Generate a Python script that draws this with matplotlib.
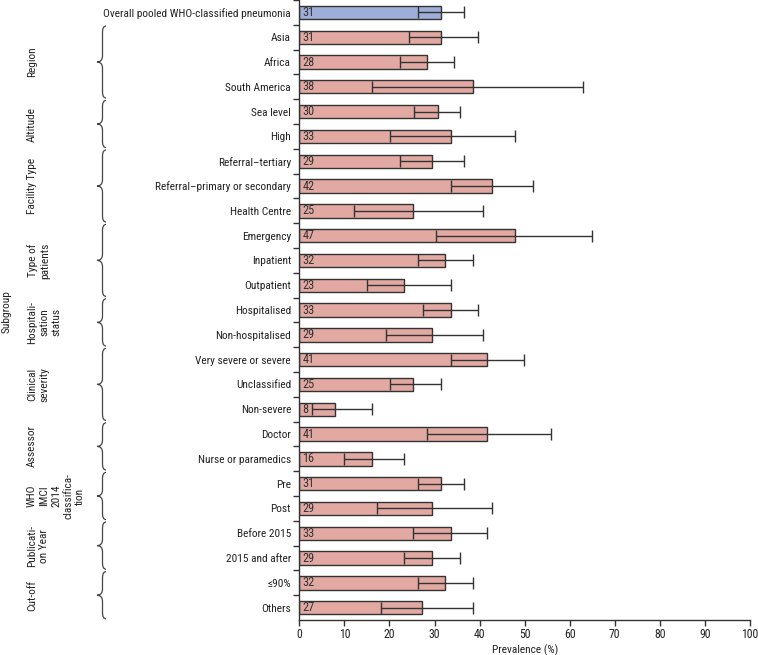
import matplotlib
matplotlib.use("Agg")
import matplotlib.pyplot as plt
import matplotlib.transforms as mtransforms
from matplotlib.path import Path
from matplotlib.patches import PathPatch

plt.rcParams['font.family'] = ['Roboto Condensed', 'Liberation Sans Narrow', 'DejaVu Sans']

categories = ["Overall pooled WHO-classified pneumonia",
              "Asia", "Africa", "South America",
              "Sea level", "High",
              "Referral\u2013tertiary", "Referral\u2013primary or secondary", "Health Centre",
              "Emergency", "Inpatient", "Outpatient",
              "Hospitalised", "Non-hospitalised",
              "Very severe or severe", "Unclassified", "Non-severe",
              "Doctor", "Nurse or paramedics",
              "Pre", "Post",
              "Before 2015", "2015 and after",
              "\u226490%", "Others"]
prevalence = [31.5, 31.5, 28.4, 38.5, 30.7, 33.6, 29.5, 42.7, 25.3, 47.8, 32.4, 23.3,
              33.6, 29.5, 41.6, 25.3, 8.0, 41.6, 16.1, 31.5, 29.5, 33.6, 29.5, 32.4, 27.3]
value_labels = ["31", "31", "28", "38", "30", "33", "29", "42", "25", "47", "32", "23",
                "33", "29", "41", "25", "8", "41", "16", "31", "29", "33", "29", "32", "27"]
ci_low = [26.3, 24.3, 22.3, 16.1, 25.4, 20.2, 22.3, 33.6, 12.1, 30.4, 26.3, 15.1,
          27.4, 19.2, 33.6, 20.2, 2.8, 28.4, 10.0, 26.3, 17.2, 25.3, 23.3, 26.3, 18.1]
ci_high = [36.5, 39.6, 34.4, 63.0, 35.6, 47.8, 36.5, 51.8, 40.7, 65.0, 38.5, 33.6,
           39.6, 40.7, 49.8, 31.5, 16.1, 55.9, 23.3, 36.5, 42.7, 41.6, 35.6, 38.5, 38.5]

# subgroup name, first row, last row
groups = [("Region", 1, 3),
          ("Altitude", 4, 5),
          ("Facility Type", 6, 8),
          ("Type of\npatients", 9, 11),
          ("Hospitali-\nsation\nstatus", 12, 13),
          ("Clinical\nseverity", 14, 16),
          ("Assessor", 17, 18),
          ("WHO\nIMCI\n2014\nclassifica-\ntion", 19, 20),
          ("Publicati-\non Year", 21, 22),
          ("Cut-off", 23, 24)]

pink = "#e2a9a3"
blue = "#9eaed9"
edge = "#333333"
fs = 8.2

fig = plt.figure(figsize=(7.58, 6.55), dpi=100)
ax = fig.add_axes([0.3949, 0.0534, 0.5945, 0.9466])

rows = list(range(len(categories)))
colors = [blue] + [pink] * (len(categories) - 1)
ax.barh(rows, prevalence, height=0.54, color=colors, edgecolor=edge, linewidth=1.0, zorder=2)
xerr = [[p - lo for p, lo in zip(prevalence, ci_low)],
        [hi - p for p, hi in zip(prevalence, ci_high)]]
ax.errorbar(prevalence, rows, xerr=xerr, fmt="none", ecolor=edge, elinewidth=1.0,
            capsize=4, capthick=1.0, zorder=3)
for r, lab in zip(rows, value_labels):
    ax.text(0.7, r, lab, ha="left", va="center", fontsize=fs + 0.6, color="#333333", zorder=4)

ax.set_xlim(0, 100)
ax.set_ylim(len(categories) - 0.5, -0.5)
ax.set_xticks(range(0, 101, 10))
ax.set_yticks(rows)
ax.set_yticklabels(categories, fontsize=fs, color="#222222")
ax.set_yticks([r - 0.5 for r in rows], minor=True)
ax.tick_params(axis="y", which="major", length=0, pad=6)
ax.tick_params(axis="y", which="minor", length=4, width=1, color=edge)
ax.tick_params(axis="x", length=4, width=1, color=edge, labelsize=fs + 0.3, pad=2,
               labelcolor="#222222")
ax.set_xlabel("Prevalence (%)", fontsize=fs, labelpad=2, color="#222222")
for s in ["top", "right"]:
    ax.spines[s].set_visible(False)
for s in ["left", "bottom"]:
    ax.spines[s].set_color(edge)
    ax.spines[s].set_linewidth(1.0)

# curly braces and group labels
trans = mtransforms.blended_transform_factory(fig.transFigure, ax.transData)
x_end, x_mid, x_tip = 106 / 758, 102.5 / 758, 97 / 758
for name, a, b in groups:
    y0, y1 = a - 0.45, b + 0.45
    ym = (y0 + y1) / 2
    d = 0.25
    verts = [(x_end, y0), (x_mid, y0), (x_mid, y0 + d),
             (x_mid, ym - d), (x_mid, ym), (x_tip, ym),
             (x_mid, ym), (x_mid, ym + d),
             (x_mid, y1 - d), (x_mid, y1), (x_end, y1)]
    codes = [Path.MOVETO, Path.CURVE3, Path.CURVE3,
             Path.LINETO, Path.CURVE3, Path.CURVE3,
             Path.CURVE3, Path.CURVE3,
             Path.LINETO, Path.CURVE3, Path.CURVE3]
    ax.add_patch(PathPatch(Path(verts, codes), transform=trans, fill=False,
                           edgecolor="#444444", linewidth=0.9, clip_on=False))
    fig.text(27 / 758, ym, name, transform=trans, rotation=90, ha="left", va="center",
             multialignment="center", fontsize=fs, color="#222222", linespacing=1.25)

fig.text(2 / 758, 0.524, "Subgroup", rotation=90, ha="left", va="center", fontsize=fs,
         color="#222222")

plt.savefig("out.png", dpi=100)
